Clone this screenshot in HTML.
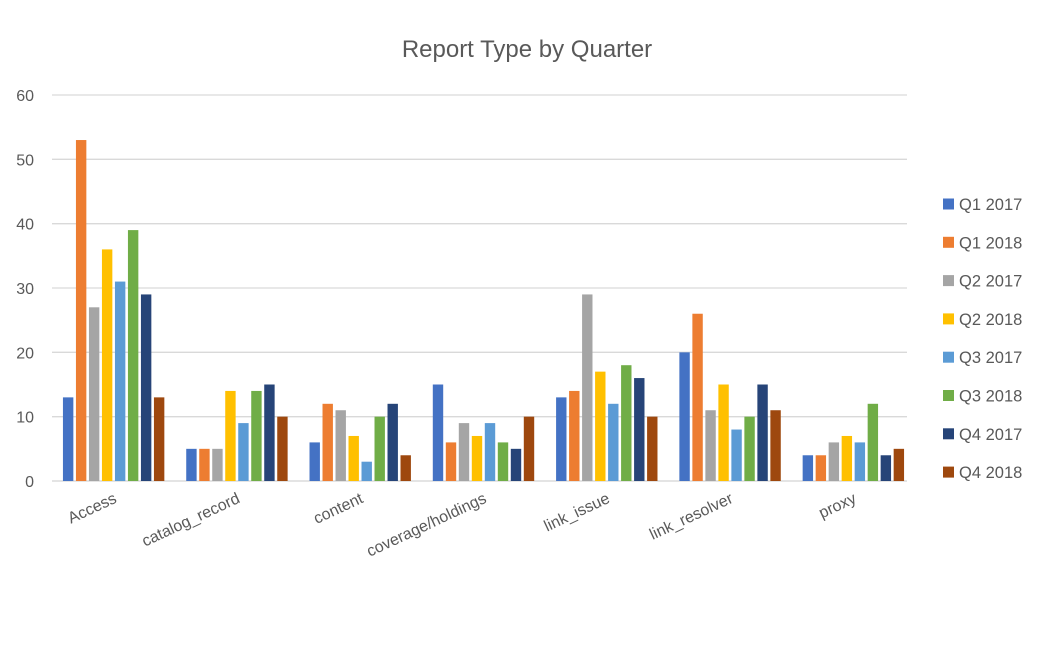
<!DOCTYPE html>
<html><head><meta charset="utf-8"><style>
body{margin:0;background:#fff;}
svg{display:block;font-family:"Liberation Sans",sans-serif;}
</style></head><body>
<svg id="chart" width="1053" height="651" viewBox="0 0 1053 651">
<text x="527" y="57" text-anchor="middle" font-size="24" fill="#595959">Report Type by Quarter</text>
<g id="grid"></g><g id="bars"></g><g id="xlabels"></g><g id="legend"></g>
</svg>
<script>
const categories=["Access","catalog_record","content","coverage/holdings","link_issue","link_resolver","proxy"];
const seriesNames=["Q1 2017","Q1 2018","Q2 2017","Q2 2018","Q3 2017","Q3 2018","Q4 2017","Q4 2018"];
const colors=["#4472c4","#ed7d31","#a5a5a5","#ffc000","#5b9bd5","#70ad47","#264478","#9e480e"];
const q1_2017=[13,5,6,15,13,20,4];
const q1_2018=[53,5,12,6,14,26,4];
const q2_2017=[27,5,11,9,29,11,6];
const q2_2018=[36,14,7,7,17,15,7];
const q3_2017=[31,9,3,9,12,8,6];
const q3_2018=[39,14,10,6,18,10,12];
const q4_2017=[29,15,12,5,16,15,4];
const q4_2018=[13,10,4,10,10,11,5];
const series=[q1_2017,q1_2018,q2_2017,q2_2018,q3_2017,q3_2018,q4_2017,q4_2018];
const yTicks=[0,10,20,30,40,50,60];
const NS="http://www.w3.org/2000/svg";
const X0=52,X1=915,Y0=481,Y1=95,YMAX=60;
const catW=(X1-X0)/categories.length;
function y(v){return Y0-(v/YMAX)*(Y0-Y1);}
function mk(t,a,p){const e=document.createElementNS(NS,t);for(const k in a)e.setAttribute(k,a[k]);p.appendChild(e);return e;}
const grid=document.getElementById('grid');
yTicks.forEach(t=>{
 const l=mk('line',{x1:X0,x2:907,y1:y(t),y2:y(t),stroke:'#d9d9d9','stroke-width':1.3},grid);
 
 
 const tx=mk('text',{x:34,y:y(t)+6,'text-anchor':'end','font-size':16,fill:'#595959'},grid);
 tx.textContent=t;
 
 
});
const bars=document.getElementById('bars');
const pitch=13,bw=10.4;
categories.forEach((c,i)=>{
 const cx=X0+catW*(i+0.5);
 const start=cx-pitch*series.length/2+(pitch-bw)/2;
 series.forEach((s,j)=>{
  const r=mk('rect',{x:start+j*pitch,y:y(s[i]),width:bw,height:Y0-y(s[i]),fill:colors[j]},bars);
  
  
 });
 const t=mk('text',{x:cx+4,y:502,'text-anchor':'end','font-size':16,fill:'#595959',transform:'rotate(-25 '+(cx+4)+' 502)'},document.getElementById('xlabels'));
 t.textContent=c;
 
 
});
const lg=document.getElementById('legend');
seriesNames.forEach((n,j)=>{
 const yy=204+j*38.3;
 const r=mk('rect',{x:943,y:yy-5.5,width:11,height:11,fill:colors[j]},lg);
 
 
 const t=mk('text',{x:959,y:yy+6,'font-size':16.5,fill:'#595959'},lg);
 t.textContent=n;
 
 
});
mk('line',{x1:X0,x2:907,y1:Y0,y2:Y0,stroke:'#d9d9d9','stroke-width':1.3},grid);
</script>
</body></html>
